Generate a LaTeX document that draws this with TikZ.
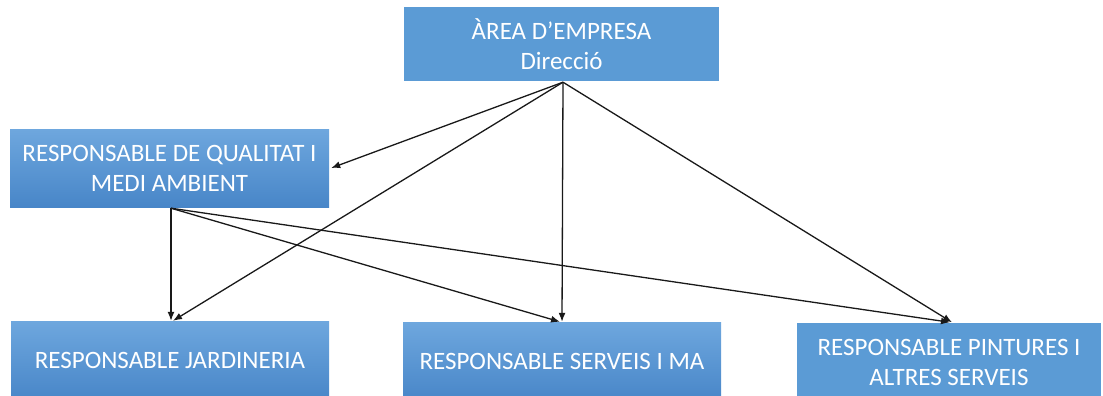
\documentclass[tikz,border=0pt]{standalone}
\usepackage{fontspec}
\setmainfont{Carlito}
\usetikzlibrary{arrows.meta,calc}
\definecolor{boxflat}{RGB}{91,155,213}
\definecolor{boxtop}{RGB}{110,167,222}
\definecolor{boxbot}{RGB}{72,134,200}
\tikzset{
  box/.style={rectangle, inner sep=0pt, text=white, align=center,
    font=\fontsize{25}{30}\selectfont},
  flatbox/.style={box, fill=boxflat},
  gradbox/.style={box, top color=boxtop, bottom color=boxbot},
  conn/.style={draw=black!90, line width=1.3pt, -{Latex[length=9pt,width=7pt]}}
}
\begin{document}
\begin{tikzpicture}[x=1pt,y=-1pt]
\useasboundingbox (0,0) rectangle (1103,396);
\clip (0,0) rectangle (1103,396);
\node[flatbox, minimum width=315pt, minimum height=74pt] (top) at (561.5,44) {ÀREA D’EMPRESA\\Direcció};
\node[gradbox, minimum width=319pt, minimum height=78pt] (qma) at (169.5,168) {RESPONSABLE DE QUALITAT I\\MEDI AMBIENT};
\node[gradbox, minimum width=318pt, minimum height=79pt] (jard) at (170,360.5) {RESPONSABLE JARDINERIA};
\node[gradbox, minimum width=318pt, minimum height=79pt] (serv) at (562,361.5) {RESPONSABLE SERVEIS I MA};
\node[flatbox, minimum width=304pt, minimum height=79pt] (pint) at (949,362) {RESPONSABLE PINTURES I\\ALTRES SERVEIS};
\coordinate (ts) at ($(top.south)+(1.5,1)$);
\coordinate (qs) at ($(qma.south)+(1.5,1)$);
\draw[conn] (ts) -- ([xshift=2pt]qma.east);
\draw[conn] (ts) -- ([xshift=3pt]jard.north);
\draw[conn] (ts) -- (serv.north);
\draw[conn] (ts) -- ([xshift=3pt]pint.north);
\draw[conn] (qs) -- ([xshift=1pt]jard.north);
\draw[conn] (qs) -- ([xshift=-2pt]serv.north);
\draw[conn] (qs) -- ([xshift=1pt]pint.north);
\end{tikzpicture}
\end{document}
